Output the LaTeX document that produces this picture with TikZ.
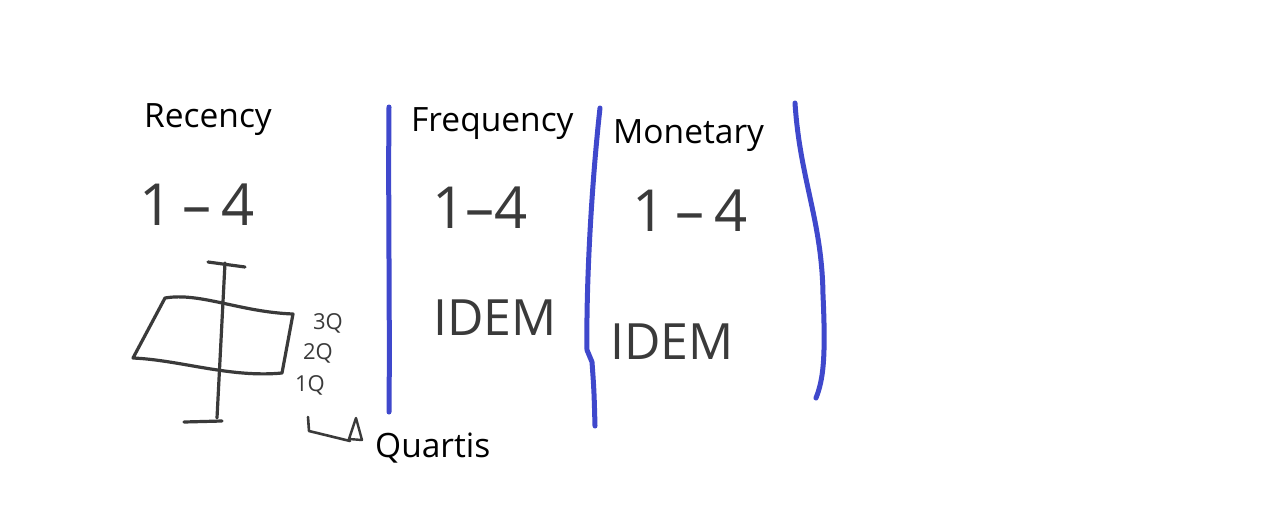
\documentclass[tikz,border=0pt]{standalone}
\usepackage{fontspec}
\setmainfont{Open Sans}
\usetikzlibrary{arrows.meta}
\definecolor{inkblue}{HTML}{3F48CC}
\definecolor{pencil}{HTML}{3A3A3A}
\tikzset{
  label/.style={font=\fontsize{33.5}{36}\selectfont, text=black, inner sep=0pt, anchor=base west},
  hand/.style={font=\fontsize{#1}{#1}\selectfont, text=pencil, inner sep=0pt},
  blueline/.style={draw=inkblue, line width=5pt, line cap=round, line join=round},
  pencilline/.style={draw=pencil, line width=3.2pt, line cap=round, line join=round},
}
\begin{document}
\begin{tikzpicture}[x=1pt,y=-1pt]
\useasboundingbox (0,0) rectangle (1284,504);
\fill[white] (0,0) rectangle (1284,504);

% typed labels
\node[label] (rec) at (144,127) {Recency};
\node[label] (fre) at (411,131) {Frequency};
\node[label] (mon) at (613,143) {Monetary};
\node[label] (qua) at (375,457) {Quartis};

% handwritten texts
\node[hand=58] (r14) at (197,205) {1\,–\,4};
\node[hand=58] (f14) at (480,208) {1–4};
\node[hand=50] (fidem) at (495,318) {IDEM};
\node[hand=50] (midem) at (672,342) {IDEM};
\node[hand=58] (m14) at (690,211) {1\,–\,4};
\node[hand=22] (q3) at (328,323) {3Q};
\node[hand=22] (q2) at (318,353) {2Q};
\node[hand=22] (q1) at (310,385) {1Q};

% blue separators
\coordinate (b1t) at (389,107);
\coordinate (b1b) at (389,412);
\draw[blueline] (b1t) .. controls (388,200) and (390,320) .. (b1b);
\coordinate (b2t) at (600,108);
\coordinate (b2k) at (587,350);
\coordinate (b2b) at (595,426);
\draw[blueline] (b2t) .. controls (592,180) and (586,280) .. (b2k)
  -- (592,362) .. controls (594,390) .. (b2b);
\coordinate (b3t) at (795,103);
\coordinate (b3b) at (816,398);
\draw[blueline] (b3t) .. controls (800,180) and (822,220) .. (823,295)
  .. controls (826,360) and (823,380) .. (b3b);

% box plot sketch
\coordinate (p1) at (165,298);
\coordinate (p2) at (293,314);
\coordinate (p3) at (282,373);
\coordinate (p4) at (133,358);
\draw[pencilline] (p1) .. controls (200,292) and (240,312) .. (p2)
  -- (p3) .. controls (230,378) and (180,360) .. (p4) -- cycle;
\coordinate (wt) at (225,263);
\coordinate (wb) at (217,418);
\draw[pencilline] (wt) -- (wb);
\draw[pencilline] (208,262) -- (245,267);
\draw[pencilline] (184,422) -- (222,421);

% arrow to Quartis
\coordinate (a1) at (308,417);
\coordinate (a2) at (309,431);
\coordinate (a3) at (350,441);
\draw[pencilline, line width=2.6pt] (a1) -- (a2) -- (a3);
\draw[pencilline, line width=2.4pt] (349,439) -- (356,418) -- (362,440) -- cycle;
\end{tikzpicture}
\end{document}
